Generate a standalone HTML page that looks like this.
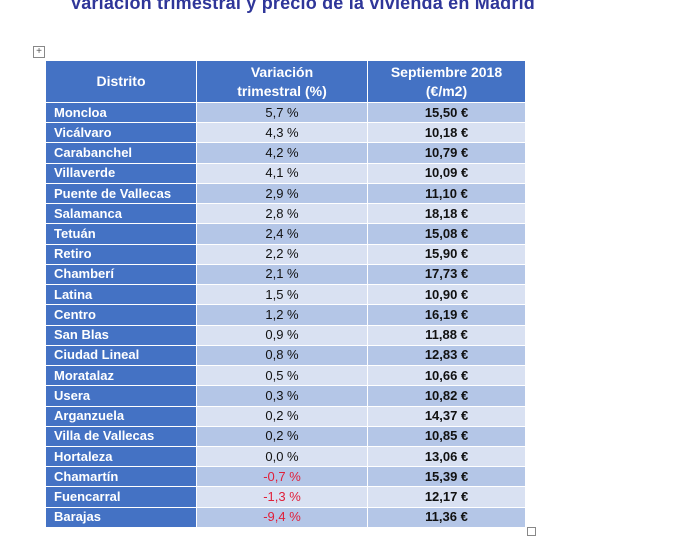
<!DOCTYPE html>
<html><head><meta charset="utf-8"><style>
body{margin:0;width:699px;height:541px;background:#fff;position:relative;overflow:hidden;font-family:"Liberation Sans",sans-serif;}
.title{position:absolute;left:70px;top:-7px;font-size:18px;font-weight:bold;color:#2f3699;white-space:nowrap;letter-spacing:0.2px}
.move{position:absolute;left:33px;top:46px;width:10px;height:10px;border:1px solid #888;font-size:10px;line-height:10px;text-align:center;color:#555}
.sq{position:absolute;left:527px;top:527px;width:7px;height:7px;border:1px solid #888}
table{position:absolute;left:45px;top:60px;border-collapse:collapse;width:481px}
td,th{border:1.5px solid #fff;padding:0;font-size:13px;line-height:16px}
tbody tr{height:20.24px}
thead tr{height:42px}
th{background:#4472c4;color:#fff;line-height:19px;font-size:14px}
td.d{background:#4472c4;color:#fff;font-weight:bold;padding-left:8px;text-align:left}
td.v,td.p{text-align:center;color:#111}
td.p{font-weight:bold}
tr.o td.v,tr.o td.p{background:#b4c6e7}
tr.e td.v,tr.e td.p{background:#d9e1f2}
.neg{color:#e0203a!important}
</style></head><body>
<div class="title">Variación trimestral y precio de la vivienda en Madrid</div>
<div class="move">+</div>
<table>
<thead><tr>
<th style="width:150px">Distrito</th>
<th style="width:170px">Variación<br>trimestral (%)</th>
<th>Septiembre 2018<br>(€/m2)</th></tr></thead>
<tbody id="tb"></tbody></table>
<div class="sq"></div>
<script>
const districts=["Moncloa","Vicálvaro","Carabanchel","Villaverde","Puente de Vallecas","Salamanca","Tetuán","Retiro","Chamberí","Latina","Centro","San Blas","Ciudad Lineal","Moratalaz","Usera","Arganzuela","Villa de Vallecas","Hortaleza","Chamartín","Fuencarral","Barajas"];
const variations=["5,7","4,3","4,2","4,1","2,9","2,8","2,4","2,2","2,1","1,5","1,2","0,9","0,8","0,5","0,3","0,2","0,2","0,0","-0,7","-1,3","-9,4"];
const prices=["15,50","10,18","10,79","10,09","11,10","18,18","15,08","15,90","17,73","10,90","16,19","11,88","12,83","10,66","10,82","14,37","10,85","13,06","15,39","12,17","11,36"];
const tb=document.getElementById('tb');
districts.forEach((d,i)=>{
 const tr=document.createElement('tr');tr.className=i%2?'e':'o';
 
 
 const a=document.createElement('td');a.className='d';a.textContent=d;
 
 
 const b=document.createElement('td');b.className='v'+(variations[i].startsWith('-')?' neg':'');b.textContent=variations[i]+' %';
 
 
 const c=document.createElement('td');c.className='p';c.textContent=prices[i]+' €';
 
 
 tr.append(a,b,c);tb.appendChild(tr);
});
</script>
</body></html>
